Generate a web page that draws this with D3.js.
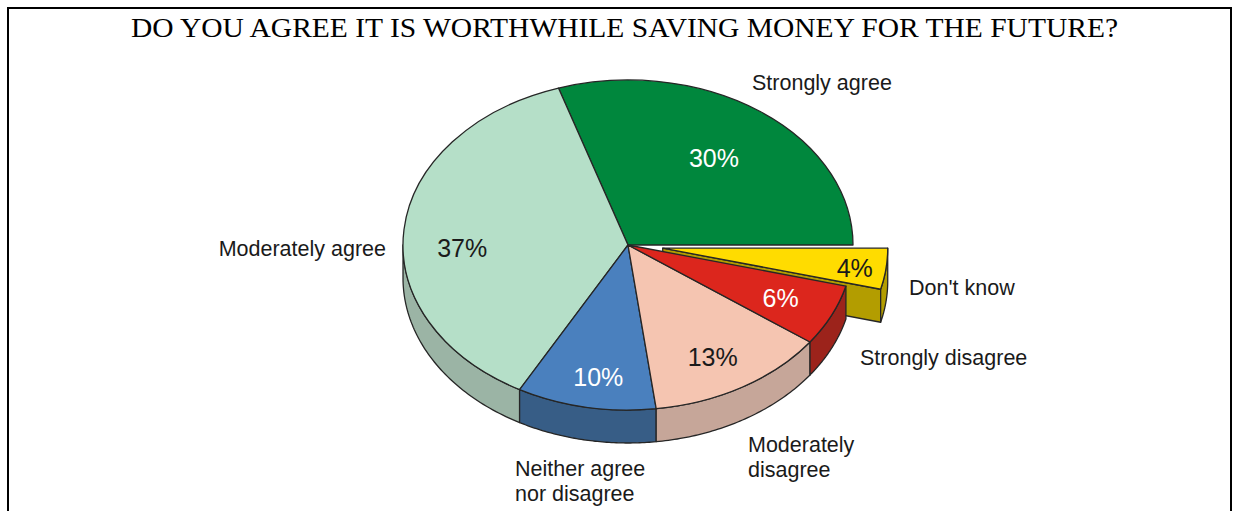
<!DOCTYPE html>
<html>
<head>
<meta charset="utf-8">
<script src="https://cdn.jsdelivr.net/npm/d3@7"></script>
<style>
  body { margin: 0; background: #fff; }
  svg { display: block; }
</style>
</head>
<body>
<script>
// data
var categories = ["Strongly agree", "Moderately agree", "Neither agree nor disagree",
                  "Moderately disagree", "Strongly disagree", "Don't know"];
var values = [30, 37, 10, 13, 6, 4];
var pctLabels = ["30%", "37%", "10%", "13%", "6%", "4%"];
var topColors = ["#00873d", "#b5dfc8", "#4a80be", "#f5c5b1", "#dc261d", "#ffdc00"];
var sideColors = ["#005f2b", "#9bb4a5", "#375d86", "#c6a699", "#9c231b", "#b39d00"];
var pctColors = ["#ffffff", "#1a1a1a", "#ffffff", "#1a1a1a", "#ffffff", "#1a1a1a"];

// layout
var w = 1233, h = 511;
var cx = 628, cy = 245, rx = 225, ry = 165, depth = 33;
var explodeIndex = 5, explodeDist = 35;
var pctRadius = [0.65, 0.74, 0.8, 0.74, 0.75, 0.86];
var pctShift = [[0, 0], [0, 14], [4, 2], [0, 7], [0, 0], [0, 2]];
// outside label placement: [x, baseline y, anchor, lines]
var outLabels = [
  [752, 90, "start", ["Strongly agree"]],
  [386, 256, "end", ["Moderately agree"]],
  [515, 476, "start", ["Neither agree", "nor disagree"]],
  [748, 452, "start", ["Moderately", "disagree"]],
  [860, 365, "start", ["Strongly disagree"]],
  [909, 295, "start", ["Don't know"]]
];

var svg = d3.select("body").append("svg")
  .attr("width", w).attr("height", h);

// frame
svg.append("path")
  .attr("d", "M8," + h + "V8H1231V" + h)
  .attr("fill", "none").attr("stroke", "#000").attr("stroke-width", 2);

// title
svg.append("text")
  .attr("x", 624.5).attr("y", 37)
  .attr("text-anchor", "middle")
  .attr("textLength", 987)
  .attr("lengthAdjust", "spacingAndGlyphs")
  .style("font-family", "'Liberation Serif', 'Times New Roman', serif")
  .style("font-size", "27px")
  .attr("fill", "#000")
  .text("DO YOU AGREE IT IS WORTHWHILE SAVING MONEY FOR THE FUTURE?");

//pie going counter clockwise from 3 o'clock
var pie = d3.pie().sort(null)
  .startAngle(Math.PI / 2)
  .endAngle(Math.PI / 2 - 2 * Math.PI);
var arcs = pie(values);

var arc = d3.arc().innerRadius(0).outerRadius(rx);
var line = d3.line();

function offset(i) {
  if (i != explodeIndex) return [0, 0];
  var m = (arcs[i].startAngle + arcs[i].endAngle) / 2;
  return [explodeDist * Math.sin(m), -explodeDist * Math.cos(m) * ry / rx];
}
function pt(a, o, dy) {
  return [cx + o[0] + rx * Math.sin(a), cy + o[1] - ry * Math.cos(a) + (dy || 0)];
}

var stroke = "#262626", sw = 1.3;
var pieG = svg.append("g");

// cut face of exploded slice (facing the viewer)
(function() {
  var d = arcs[explodeIndex], o = offset(explodeIndex);
  var a = d.startAngle;
  var c = [cx + o[0], cy + o[1]];
  var p = pt(a, o);
  pieG.append("path")
    .attr("d", line([c, p, [p[0], p[1] + depth], [c[0], c[1] + depth]]) + "Z")
    .attr("fill", sideColors[explodeIndex])
    .attr("stroke", stroke).attr("stroke-width", sw).attr("stroke-linejoin", "round");
})();

// outer sides (only the front half shows)
arcs.forEach(function(d, i) {
  var lo = Math.max(Math.min(d.startAngle, d.endAngle), -1.5 * Math.PI);
  var hi = Math.min(Math.max(d.startAngle, d.endAngle), -0.5 * Math.PI);
  if (lo >= hi) return;
  var o = offset(i);
  var n = 60;
  var angs = d3.range(n + 1).map(function(k) { return lo + (hi - lo) * k / n; });
  var top = angs.map(function(a) { return pt(a, o); });
  var bot = angs.slice().reverse().map(function(a) { return pt(a, o, depth); });
  pieG.append("path")
    .attr("d", line(top.concat(bot)) + "Z")
    .attr("fill", sideColors[i])
    .attr("stroke", stroke).attr("stroke-width", sw).attr("stroke-linejoin", "round");
});

// top faces
arcs.forEach(function(d, i) {
  var o = offset(i);
  pieG.append("g")
    .attr("transform", "translate(" + (cx + o[0]) + "," + (cy + o[1]) + ") scale(1," + (ry / rx) + ")")
    .append("path")
    .attr("d", arc(d))
    .attr("fill", topColors[i])
    .attr("stroke", stroke).attr("stroke-width", sw)
    .attr("stroke-linejoin", "round")
    .attr("vector-effect", "non-scaling-stroke");
});

// percentage labels
arcs.forEach(function(d, i) {
  var o = offset(i);
  var m = (d.startAngle + d.endAngle) / 2;
  var r = pctRadius[i];
  svg.append("text")
    .attr("x", cx + o[0] + r * rx * Math.sin(m) + pctShift[i][0])
    .attr("y", cy + o[1] - r * ry * Math.cos(m) + pctShift[i][1])
    .attr("text-anchor", "middle")
    .attr("dominant-baseline", "central")
    .style("font-family", "'Liberation Sans', Arial, sans-serif")
    .style("font-size", "25px")
    .attr("fill", pctColors[i])
    .text(pctLabels[i]);
});

// category labels
outLabels.forEach(function(l) {
  var t = svg.append("text")
    .attr("x", l[0]).attr("y", l[1])
    .attr("text-anchor", l[2])
    .style("font-family", "'Liberation Sans', Arial, sans-serif")
    .style("font-size", "21.5px")
    .attr("fill", "#1a1a1a");
  l[3].forEach(function(s, k) {
    t.append("tspan").attr("x", l[0]).attr("dy", k == 0 ? 0 : 25).text(s);
  });
});
</script>
</body>
</html>
